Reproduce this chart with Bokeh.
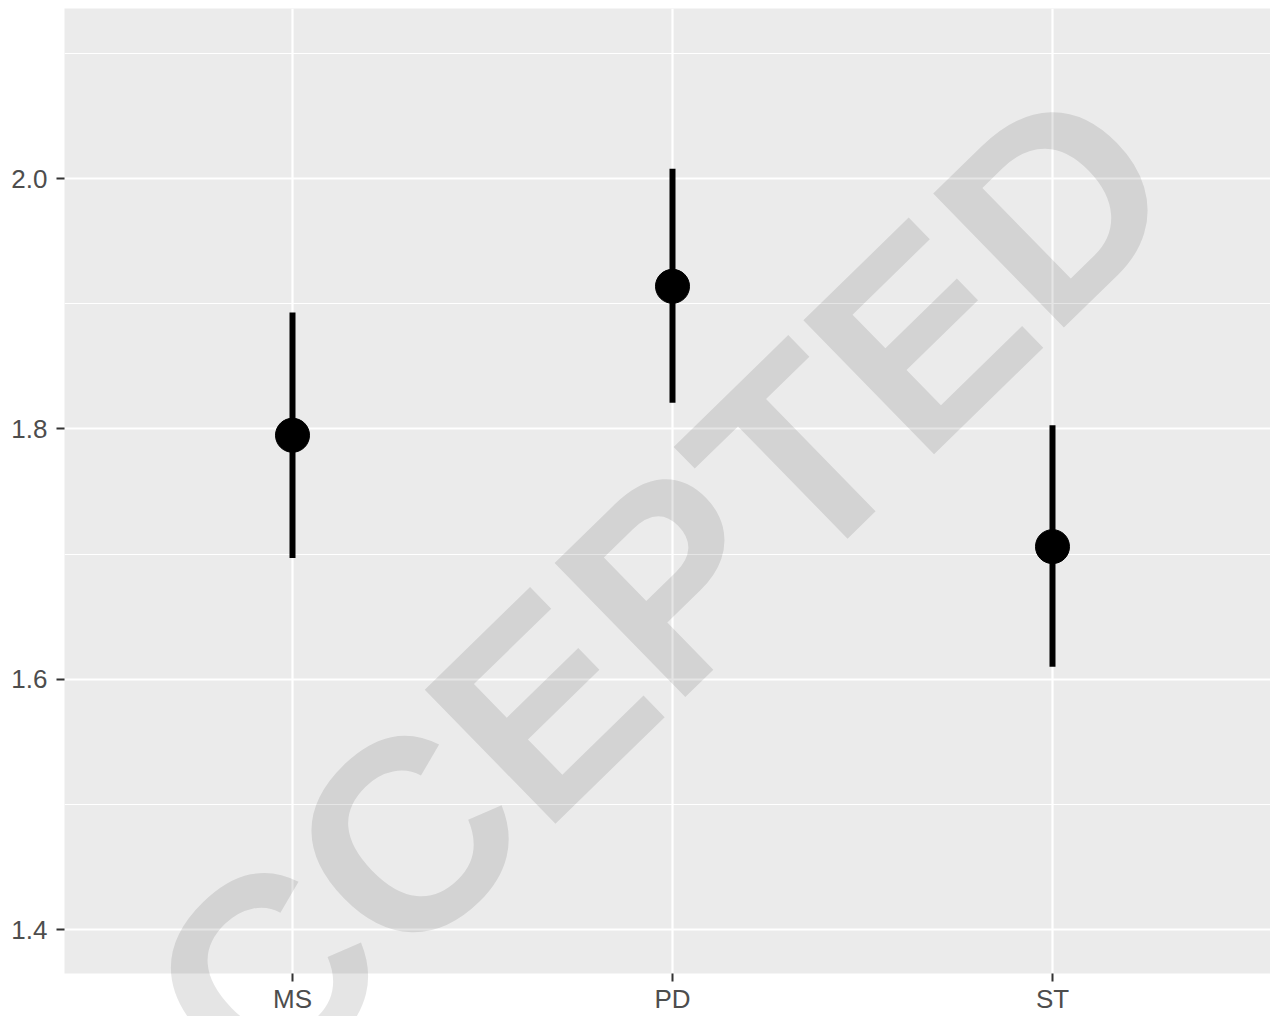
from bokeh.plotting import figure
from bokeh.models import FixedTicker, Range1d, ColumnDataSource, NumeralTickFormatter
from bokeh.core.properties import value
from bokeh.embed import file_html
from bokeh.resources import INLINE

# ---- data ----
categories = ["MS", "PD", "ST"]
means = [1.795, 1.914, 1.706]
lower = [1.697, 1.821, 1.610]
upper = [1.893, 2.008, 1.803]
y_ticks = [1.4, 1.6, 1.8, 2.0]
y_minor = [1.5, 1.7, 1.9, 2.1]
watermark = ["ACCEPTED"]

xs = list(range(1, len(categories) + 1))
src = ColumnDataSource(dict(x=xs, cat=categories, mean=means, lo=lower, hi=upper))

p = figure(width=1270, height=1016, output_backend="svg", toolbar_location=None,
           x_range=Range1d(0.4, 3.5737), y_range=Range1d(1.3649, 2.136),
           min_border_left=64, min_border_right=0, min_border_top=8, min_border_bottom=42,
           background_fill_color="#EBEBEB", border_fill_color="white",
           outline_line_color=None)

p.xaxis.ticker = FixedTicker(ticks=xs)
p.xaxis.major_label_overrides = {x: c for x, c in zip(xs, categories)}
p.yaxis.ticker = FixedTicker(ticks=y_ticks, minor_ticks=y_minor)
p.yaxis.formatter = NumeralTickFormatter(format="0.0")

for ax in (p.xaxis, p.yaxis):
    ax.axis_line_color = None
    ax.major_tick_line_color = "#333333"
    ax.major_tick_line_width = 2
    ax.major_tick_out = 8
    ax.major_tick_in = 0
    ax.minor_tick_line_color = None
    ax.major_label_text_font = "Liberation Sans"
    ax.major_label_text_font_size = "26px"
    ax.major_label_text_color = "#4D4D4D"
p.yaxis.major_label_standoff = 9
p.xaxis.major_label_standoff = 2

p.xgrid.grid_line_color = "white"
p.xgrid.grid_line_width = 2.2
p.ygrid.grid_line_color = "white"
p.ygrid.grid_line_width = 2.2
p.ygrid.minor_grid_line_color = "white"
p.ygrid.minor_grid_line_width = 1.1

p.segment(x0="x", y0="lo", x1="x", y1="hi", source=src, line_width=6,
          line_color="black", line_cap="butt")
p.scatter(x="x", y="mean", source=src, size=34, fill_color="black", line_color="black")

# watermark (drawn at overlay level so it is not clipped to the panel)
p.text(x=[1.784], y=[1.6168], text=watermark, angle=44.3, angle_units="deg",
       text_font=value("Liberation Sans"), text_font_style="bold", text_font_size="272px",
       text_color="black", text_alpha=0.1, text_align="center", text_baseline="middle",
       level="overlay")

open("out.html", "w").write(file_html(p, INLINE))
